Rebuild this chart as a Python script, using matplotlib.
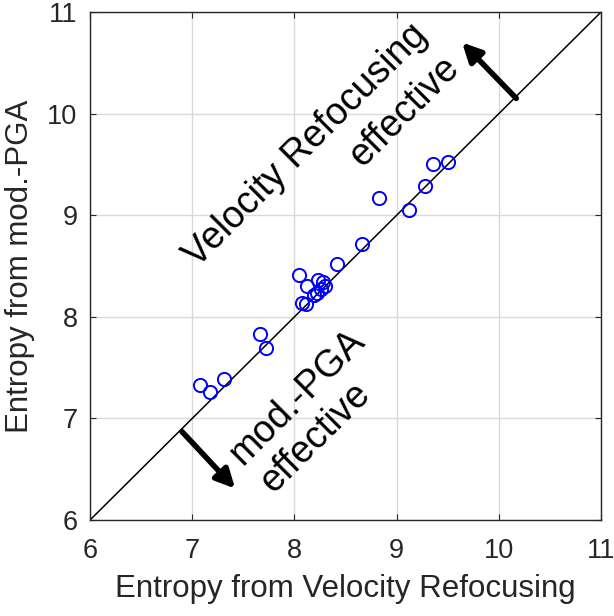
import matplotlib.pyplot as plt
import numpy as np

plt.rcParams['font.family'] = ['Liberation Sans', 'DejaVu Sans']

# entropy values
ent_vr = [9.50, 9.36, 9.28, 8.83, 9.12, 8.66, 8.42, 8.04, 8.12, 8.23, 8.28,
          8.30, 8.22, 8.19, 8.26, 8.07, 8.11, 7.66, 7.72, 7.31, 7.08, 7.17]
ent_pga = [9.52, 9.50, 9.29, 9.17, 9.05, 8.72, 8.52, 8.41, 8.30, 8.36, 8.34,
           8.30, 8.23, 8.21, 8.27, 8.14, 8.13, 7.83, 7.69, 7.39, 7.33, 7.26]
ticks = [6, 7, 8, 9, 10, 11]

fig = plt.figure(figsize=(6.14, 6.16), dpi=100)
ax = fig.add_axes([0.1466, 0.1558, 0.8324, 0.8247])

ax.plot([6, 11], [6, 11], color='black', lw=1.1, zorder=2)
ax.plot(ent_vr, ent_pga, 'o', mfc='none', mec='blue', ms=9.5, mew=1.4, zorder=3)

ax.set_xlim(6, 11)
ax.set_ylim(6, 11)
ax.set_xticks(ticks)
ax.set_yticks(ticks)
ax.grid(True, color='#d9d9d9', lw=1.0)
ax.set_axisbelow(True)
ax.tick_params(direction='in', length=4, labelsize=19.5, top=True, right=True,
               color='#262626', labelcolor='#262626')
ax.tick_params(axis='x', pad=13)
ax.tick_params(axis='y', pad=9)
for s in ax.spines.values():
    s.set_color('#262626')
    s.set_linewidth(1.0)

ax.set_xlabel('Entropy from Velocity Refocusing', fontsize=22.5, color='#262626', labelpad=7)
ax.set_ylabel('Entropy from mod.-PGA', fontsize=22.5, color='#262626', labelpad=9)

# annotations
ax.text(8.11, 9.69, 'Velocity Refocusing', rotation=45, rotation_mode='anchor',
        ha='center', va='center', fontsize=27)
ax.text(9.08, 10.02, 'effective', rotation=45, rotation_mode='anchor',
        ha='center', va='center', fontsize=27)
ax.text(8.03, 7.21, 'mod.-PGA', rotation=45, rotation_mode='anchor',
        ha='center', va='center', fontsize=27)
ax.text(8.21, 6.81, 'effective', rotation=45, rotation_mode='anchor',
        ha='center', va='center', fontsize=27)

arrow = dict(arrowstyle='-|>', lw=4, color='black', mutation_scale=28,
             shrinkA=0, shrinkB=0)
ax.annotate('', xy=(9.64, 10.70), xytext=(10.17, 10.15), arrowprops=arrow)
ax.annotate('', xy=(7.42, 6.31), xytext=(6.90, 6.87), arrowprops=arrow)

fig.savefig('out.png', dpi=100)
